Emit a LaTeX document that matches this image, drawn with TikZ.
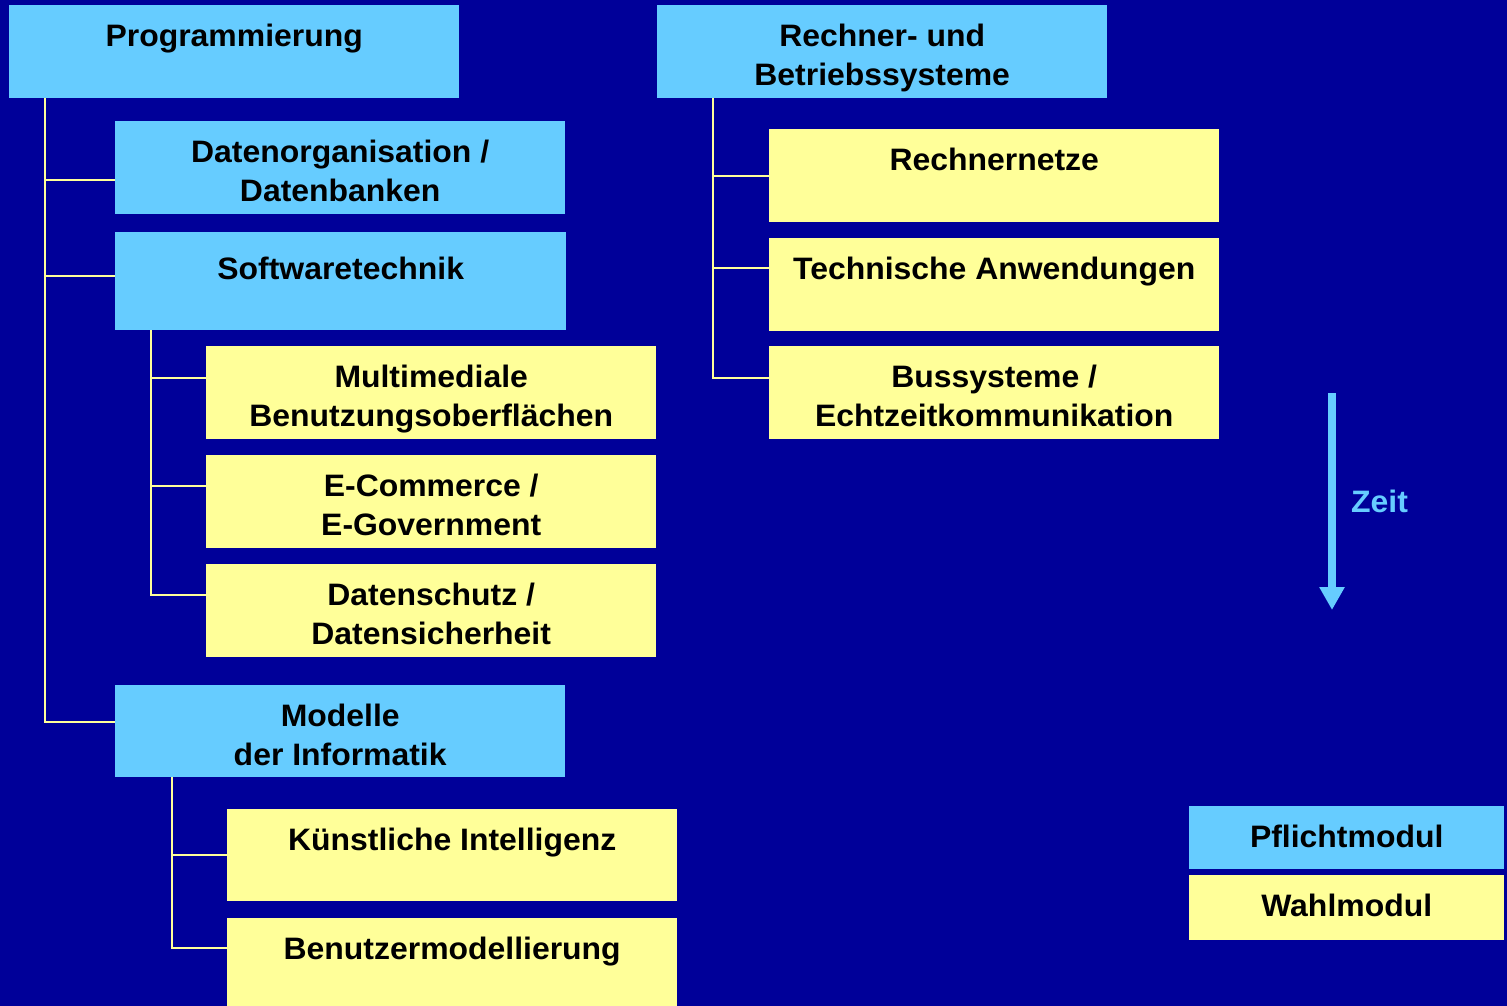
\documentclass[tikz,border=0pt]{standalone}
\usepackage{fontspec}
\setmainfont{Liberation Sans}[FakeStretch=1.03]
\usetikzlibrary{arrows.meta}
\definecolor{bgblue}{HTML}{000099}
\definecolor{pflicht}{HTML}{66CCFF}
\definecolor{wahl}{HTML}{FFFF99}
\definecolor{linecol}{HTML}{FFFF99}
\tikzset{
  modbox/.style={rectangle, draw=none, inner sep=0pt, anchor=north west},
  pbox/.style={modbox, fill=pflicht},
  wbox/.style={modbox, fill=wahl},
  txt/.style={anchor=north, inner sep=0pt, align=center, text=black,
    font=\fontsize{31}{39}\selectfont\bfseries},
  conn/.style={draw=linecol, line width=2pt},
  timearrow/.style={draw=pflicht, line width=8pt, -{Triangle[width=24pt,length=23pt]}},
}
\begin{document}
\begin{tikzpicture}[x=1pt,y=-1pt]
\fill[bgblue] (0,0) rectangle (1507,1006);
\useasboundingbox (0,0) rectangle (1507,1006);

% left column
\node[pbox, minimum width=450pt, minimum height=93pt] (prog) at (9,5) {};
\node[txt] (prog-t) at ([yshift=-13.7pt]prog.north) {\strut Programmierung};

\node[pbox, minimum width=450pt, minimum height=93pt] (dorg) at (115,121) {};
\node[txt] (dorg-t) at ([yshift=-13.7pt]dorg.north) {\strut Datenorganisation /\\\strut Datenbanken};

\node[pbox, minimum width=451pt, minimum height=98pt] (swt) at (115,232) {};
\node[txt] (swt-t) at ([yshift=-19.5pt]swt.north) {\strut Softwaretechnik};

\node[wbox, minimum width=450pt, minimum height=93pt] (mmb) at (206,346) {};
\node[txt] (mmb-t) at ([yshift=-13.7pt]mmb.north) {\strut Multimediale\\\strut Benutzungsoberflächen};

\node[wbox, minimum width=450pt, minimum height=93pt] (ecom) at (206,455) {};
\node[txt] (ecom-t) at ([yshift=-13.7pt]ecom.north) {\strut E-Commerce /\\\strut E-Government};

\node[wbox, minimum width=450pt, minimum height=93pt] (dsch) at (206,564) {};
\node[txt] (dsch-t) at ([yshift=-13.7pt]dsch.north) {\strut Datenschutz /\\\strut Datensicherheit};

\node[pbox, minimum width=450pt, minimum height=92pt] (mod) at (115,685) {};
\node[txt] (mod-t) at ([yshift=-13.7pt]mod.north) {\strut Modelle\\\strut der Informatik};

\node[wbox, minimum width=450pt, minimum height=92pt] (ki) at (227,809) {};
\node[txt] (ki-t) at ([yshift=-13.7pt]ki.north) {\strut Künstliche Intelligenz};

\node[wbox, minimum width=450pt, minimum height=88pt] (bm) at (227,918) {};
\node[txt] (bm-t) at ([yshift=-13.7pt]bm.north) {\strut Benutzermodellierung};

% right column
\node[pbox, minimum width=450pt, minimum height=93pt] (rbs) at (657,5) {};
\node[txt] (rbs-t) at ([yshift=-13.7pt]rbs.north) {\strut Rechner- und\\\strut Betriebssysteme};

\node[wbox, minimum width=450pt, minimum height=93pt] (rn) at (769,129) {};
\node[txt] (rn-t) at ([yshift=-13.7pt]rn.north) {\strut Rechnernetze};

\node[wbox, minimum width=450pt, minimum height=93pt] (ta) at (769,238) {};
\node[txt] (ta-t) at ([yshift=-13.7pt]ta.north) {\strut Technische Anwendungen};

\node[wbox, minimum width=450pt, minimum height=93pt] (bus) at (769,346) {};
\node[txt] (bus-t) at ([yshift=-13.7pt]bus.north) {\strut Bussysteme /\\\strut Echtzeitkommunikation};

% legend
\node[pbox, minimum width=315pt, minimum height=63pt] (leg1) at (1189,806) {};
\node[txt] (leg1-t) at ([yshift=-13.7pt]leg1.north) {\strut Pflichtmodul};
\node[wbox, minimum width=315pt, minimum height=65pt] (leg2) at (1189,875) {};
\node[txt] (leg2-t) at ([yshift=-14.2pt]leg2.north) {\strut Wahlmodul};

% time arrow
\coordinate (zs) at (1332,393);
\coordinate (ze) at (1332,610);
\draw[timearrow] (zs) -- (ze);
\node[txt, text=pflicht] (zeit) at (1379.5,484.5) {\strut Zeit};

% connectors
\draw[conn] ([xshift=36pt]prog.south west) |- ([yshift=-12.5pt]dorg.west);
\draw[conn] ([xshift=36pt]prog.south west) |- ([yshift=5pt]swt.west);
\draw[conn] ([xshift=36pt]prog.south west) |- ([yshift=9pt]mod.west);
\draw[conn] ([xshift=36pt]swt.south west) |- ([yshift=14.5pt]mmb.west);
\draw[conn] ([xshift=36pt]swt.south west) |- ([yshift=15.5pt]ecom.west);
\draw[conn] ([xshift=36pt]swt.south west) |- ([yshift=15.5pt]dsch.west);
\draw[conn] ([xshift=57pt]mod.south west) |- (ki.west);
\draw[conn] ([xshift=57pt]mod.south west) |- ([yshift=14pt]bm.west);
\draw[conn] ([xshift=56pt]rbs.south west) |- (rn.west);
\draw[conn] ([xshift=56pt]rbs.south west) |- ([yshift=16.5pt]ta.west);
\draw[conn] ([xshift=56pt]rbs.south west) |- ([yshift=14.5pt]bus.west);
\end{tikzpicture}
\end{document}
